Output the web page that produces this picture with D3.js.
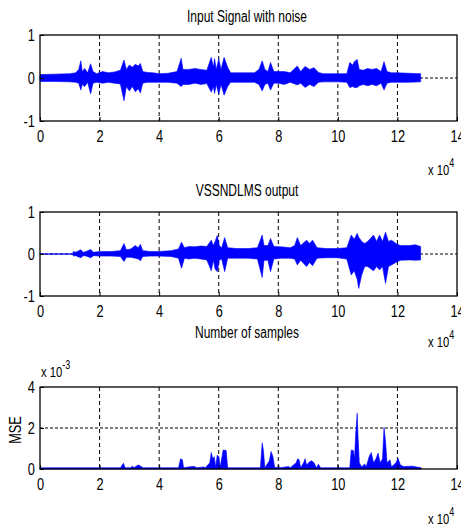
<!DOCTYPE html>
<html>
<head>
<meta charset="utf-8">
<script src="https://cdn.jsdelivr.net/npm/d3@7"></script>
<style>
  body { margin: 0; background: #fff; }
  text { font-family: "Liberation Sans", Arial, sans-serif; fill: #000; }
</style>
</head>
<body>
<div id="chart"></div>
<script>
// x axis in units of 1e4 samples
var xTicks = [0, 2, 4, 6, 8, 10, 12, 14];
var sigTicks = [-1, 0, 1];
var mseTicks = [0, 2, 4];

// input signal envelope: [x, upper, lower]
var inputEnv = [
  [0, 0.08, -0.08], [0.5, 0.09, -0.08], [1.0, 0.1, -0.09], [1.2, 0.12, -0.1], [1.3, 0.2, -0.12],
  [1.37, 0.40, -0.28], [1.42, 0.15, -0.15], [1.5, 0.22, -0.2], [1.6, 0.12, -0.1], [1.70, 0.33, -0.37],
  [1.78, 0.15, -0.12], [1.9, 0.1, -0.1], [2.1, 0.15, -0.12], [2.3, 0.12, -0.1], [2.5, 0.14, -0.12],
  [2.7, 0.18, -0.14], [2.82, 0.42, -0.53], [2.9, 0.2, -0.2], [3.0, 0.3, -0.3], [3.1, 0.25, -0.2],
  [3.2, 0.32, -0.32], [3.3, 0.28, -0.25], [3.37, 0.34, -0.35], [3.45, 0.15, -0.12], [3.6, 0.13, -0.1],
  [3.8, 0.12, -0.1], [4.0, 0.1, -0.1], [4.3, 0.11, -0.1], [4.6, 0.15, -0.12], [4.74, 0.46, -0.2],
  [4.8, 0.2, -0.15], [5.0, 0.2, -0.15], [5.2, 0.22, -0.12], [5.4, 0.2, -0.15], [5.6, 0.18, -0.13],
  [5.75, 0.48, -0.33], [5.82, 0.25, -0.2], [5.86, 0.45, -0.36], [5.92, 0.2, -0.15], [6.0, 0.44, -0.38],
  [6.08, 0.2, -0.15], [6.18, 0.48, -0.40], [6.3, 0.25, -0.2], [6.4, 0.12, -0.1], [7.2, 0.12, -0.1],
  [7.35, 0.2, -0.15], [7.46, 0.40, -0.30], [7.55, 0.2, -0.15], [7.65, 0.15, -0.12], [7.74, 0.36, -0.28],
  [7.85, 0.15, -0.12], [8.0, 0.15, -0.12], [8.2, 0.15, -0.15], [8.4, 0.12, -0.1], [8.64, 0.28, -0.16],
  [8.75, 0.15, -0.12], [8.9, 0.27, -0.22], [9.05, 0.2, -0.15], [9.2, 0.24, -0.2], [9.35, 0.13, -0.1],
  [9.5, 0.1, -0.09], [10.0, 0.1, -0.09], [10.3, 0.1, -0.1], [10.4, 0.36, -0.22], [10.5, 0.3, -0.2],
  [10.55, 0.38, -0.22], [10.65, 0.43, -0.22], [10.72, 0.2, -0.18], [10.85, 0.18, -0.15], [11.0, 0.22, -0.18],
  [11.15, 0.2, -0.15], [11.3, 0.22, -0.18], [11.45, 0.15, -0.12], [11.55, 0.38, -0.28], [11.65, 0.15, -0.12],
  [11.8, 0.12, -0.1], [12.0, 0.12, -0.1], [12.4, 0.11, -0.1], [12.78, 0.1, -0.09]
];

// VSSNDLMS output envelope: [x, upper, lower]
var outputEnv = [
  [0, 0.005, -0.005], [1.1, 0.005, -0.005], [1.12, 0.06, -0.05], [1.2, 0.04, -0.04], [1.3, 0.08, -0.07],
  [1.37, 0.1, -0.09], [1.45, 0.04, -0.04], [1.55, 0.06, -0.05], [1.7, 0.11, -0.09], [1.8, 0.04, -0.04],
  [2.0, 0.06, -0.05], [2.4, 0.06, -0.05], [2.7, 0.08, -0.06], [2.82, 0.25, -0.18], [2.9, 0.1, -0.08],
  [3.05, 0.12, -0.08], [3.2, 0.2, -0.1], [3.3, 0.15, -0.12], [3.37, 0.23, -0.16], [3.45, 0.08, -0.06],
  [3.7, 0.06, -0.05], [4.0, 0.06, -0.05], [4.4, 0.08, -0.06], [4.65, 0.12, -0.1], [4.75, 0.28, -0.34],
  [4.85, 0.15, -0.1], [5.0, 0.18, -0.12], [5.2, 0.17, -0.1], [5.4, 0.19, -0.12], [5.6, 0.18, -0.14],
  [5.75, 0.33, -0.40], [5.82, 0.2, -0.15], [5.88, 0.3, -0.36], [5.95, 0.44, -0.42], [6.02, 0.2, -0.15],
  [6.1, 0.15, -0.12], [6.2, 0.39, -0.42], [6.3, 0.15, -0.1], [6.6, 0.13, -0.1], [7.0, 0.13, -0.1],
  [7.3, 0.15, -0.12], [7.46, 0.45, -0.56], [7.52, 0.2, -0.15], [7.65, 0.2, -0.15], [7.74, 0.37, -0.42],
  [7.85, 0.18, -0.12], [8.1, 0.17, -0.1], [8.4, 0.15, -0.1], [8.55, 0.2, -0.12], [8.64, 0.39, -0.26],
  [8.75, 0.2, -0.15], [8.95, 0.33, -0.3], [9.05, 0.25, -0.2], [9.15, 0.33, -0.28], [9.3, 0.15, -0.1],
  [9.6, 0.13, -0.09], [10.0, 0.13, -0.09], [10.3, 0.15, -0.12], [10.45, 0.45, -0.5], [10.55, 0.35, -0.4],
  [10.65, 0.49, -0.6], [10.7, 0.4, -0.82], [10.8, 0.3, -0.5], [10.9, 0.25, -0.3], [11.0, 0.3, -0.3],
  [11.2, 0.45, -0.4], [11.3, 0.3, -0.3], [11.4, 0.45, -0.38], [11.5, 0.3, -0.3], [11.6, 0.52, -0.70],
  [11.7, 0.3, -0.3], [11.8, 0.33, -0.26], [11.95, 0.25, -0.2], [12.1, 0.2, -0.15], [12.4, 0.2, -0.14],
  [12.6, 0.22, -0.15], [12.78, 0.18, -0.14]
];

// MSE (x 1e-3): [x, value]
var mseData = [
  [0, 0.06], [2.7, 0.06], [2.8, 0.28], [2.86, 0.06], [3.05, 0.06], [3.1, 0.15], [3.15, 0.06],
  [3.3, 0.2], [3.4, 0.12], [3.45, 0.06], [4.65, 0.06], [4.72, 0.5], [4.78, 0.45], [4.82, 0.06],
  [5.1, 0.12], [5.2, 0.12], [5.25, 0.06], [5.5, 0.1], [5.55, 0.06], [5.7, 0.3], [5.75, 0.8],
  [5.8, 0.5], [5.85, 0.6], [5.9, 0.1], [5.95, 0.68], [6.0, 0.6], [6.05, 0.1], [6.15, 0.93],
  [6.25, 0.9], [6.3, 0.06], [7.4, 0.06], [7.46, 1.28], [7.5, 0.9], [7.55, 0.06], [7.7, 0.4],
  [7.76, 0.85], [7.82, 0.6], [7.88, 0.06], [8.0, 0.1], [8.05, 0.06], [8.35, 0.12], [8.4, 0.06],
  [8.6, 0.3], [8.65, 0.5], [8.7, 0.45], [8.75, 0.06], [8.85, 0.3], [8.9, 0.5], [8.95, 0.2],
  [9.05, 0.35], [9.12, 0.4], [9.2, 0.3], [9.28, 0.06], [9.35, 0.23], [9.42, 0.06], [10.4, 0.06],
  [10.45, 0.93], [10.52, 0.9], [10.56, 0.5], [10.6, 1.75], [10.65, 2.72], [10.68, 1.5], [10.72, 0.3],
  [10.8, 0.1], [10.9, 0.25], [10.95, 0.1], [11.05, 0.6], [11.12, 0.8], [11.2, 0.3], [11.28, 0.5],
  [11.35, 0.78], [11.42, 0.3], [11.5, 0.5], [11.55, 2.03], [11.6, 1.35], [11.65, 0.3], [11.75, 0.45],
  [11.8, 0.1], [11.95, 0.3], [12.02, 0.52], [12.1, 0.2], [12.2, 0.12], [12.5, 0.14], [12.8, 0.06]
];

var W = 461, H = 529;
var left = 40, right = 457;
var blue = "#0000ff";
var narrow = 0.75;   // horizontal squeeze to mimic the condensed MATLAB font

var svg = d3.select("#chart").append("svg")
    .attr("width", W)
    .attr("height", H);

var x = d3.scaleLinear().domain([0, 14]).range([left, right]);

// text squeezed horizontally around its anchor point
function label(xp, yp, str, size, anchor) {
  return svg.append("g")
      .attr("transform", "translate(" + xp + "," + yp + ") scale(" + narrow + ",1)")
    .append("text")
      .attr("text-anchor", anchor || "middle")
      .style("font-size", size + "px")
      .text(str);
}

function expLabel(xp, yp, base, exp) {
  var t = label(xp, yp, "", 15, "start");
  t.append("tspan").text(base);
  t.append("tspan").attr("dy", -8).style("font-size", "12px").text(exp);
}

function panel(top, bottom, yDomain, yTicks, gridY, env, isSignal) {
  var y = d3.scaleLinear().domain(yDomain).range([bottom, top]);
  var g = svg.append("g");

  // grid (behind data)
  g.selectAll(".gx").data(xTicks.slice(1, -1)).enter().append("line")
      .attr("x1", function(d) { return x(d); }).attr("x2", function(d) { return x(d); })
      .attr("y1", top).attr("y2", bottom)
      .attr("stroke", "#000").attr("stroke-width", 1).attr("stroke-dasharray", "4,3");
  g.append("line")
      .attr("x1", left).attr("x2", right)
      .attr("y1", y(gridY)).attr("y2", y(gridY))
      .attr("stroke", "#000").attr("stroke-width", 1).attr("stroke-dasharray", "3,2");

  // data
  var area = d3.area()
      .x(function(d) { return x(d[0]); })
      .y0(function(d) { return isSignal ? y(d[2]) : y(0); })
      .y1(function(d) { return y(d[1]); });
  g.append("path").datum(env)
      .attr("d", area)
      .attr("fill", blue).attr("stroke", blue).attr("stroke-width", 0.6);

  // axes with inward ticks
  g.append("g").attr("transform", "translate(0," + bottom + ")")
      .call(d3.axisBottom(x).tickValues(xTicks).tickFormat(String)
              .tickSizeInner(-4).tickSizeOuter(0).tickPadding(9))
      .call(function(a) { a.select(".domain").remove(); })
      .selectAll("text")
        .style("font-size", "17px").style("font-family", "'Liberation Sans', Arial, sans-serif")
        .attr("transform", "scale(" + narrow + ",1)");
  g.append("g").attr("transform", "translate(" + left + ",0)")
      .call(d3.axisLeft(y).tickValues(yTicks).tickFormat(String)
              .tickSizeInner(-4).tickSizeOuter(0).tickPadding(7))
      .call(function(a) { a.select(".domain").remove(); })
      .selectAll("text")
        .style("font-size", "17px").style("font-family", "'Liberation Sans', Arial, sans-serif")
        .attr("transform", "scale(" + narrow + ",1)");
  g.selectAll(".tick line").attr("stroke-width", 1);
  g.append("rect")
      .attr("x", left).attr("y", top)
      .attr("width", right - left).attr("height", bottom - top)
      .attr("fill", "none").attr("stroke", "#000").attr("stroke-width", 1.3);
  return y;
}

// panel 1
label(247, 22, "Input Signal with noise", 16);
panel(35, 121, [-1, 1], sigTicks, 0, inputEnv, true);
expLabel(428, 175, "x 10", "4");

// panel 2
label(247, 196, "VSSNDLMS output", 16);
panel(212, 296, [-1, 1], sigTicks, 0, outputEnv, true);
label(247, 338, "Number of samples", 16);
expLabel(428, 347, "x 10", "4");

// panel 3
expLabel(41, 377, "x 10", "-3");
panel(387, 469, [0, 4], mseTicks, 2, mseData, false);
svg.append("g")
    .attr("transform", "translate(21,430) rotate(-90) scale(" + narrow + ",1)")
  .append("text")
    .attr("text-anchor", "middle")
    .style("font-size", "17px").text("MSE");
expLabel(428, 524, "x 10", "4");
</script>
</body>
</html>
